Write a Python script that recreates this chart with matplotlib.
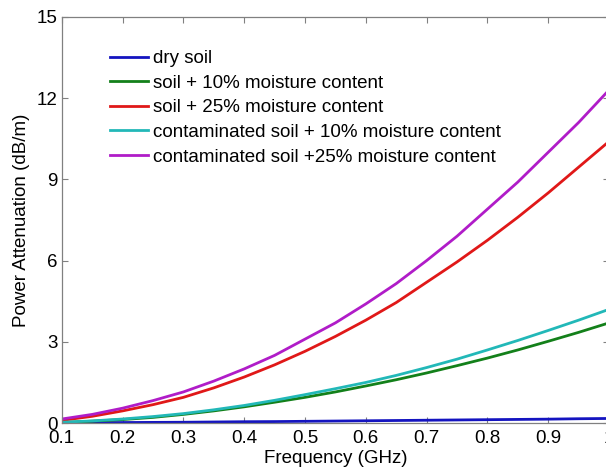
import matplotlib
matplotlib.use('Agg')
import matplotlib.pyplot as plt
import numpy as np

plt.rcParams['font.family'] = ['Liberation Sans', 'DejaVu Sans']

# frequency samples (GHz)
freq = [0.10, 0.15, 0.20, 0.25, 0.30, 0.35, 0.40, 0.45, 0.50, 0.55,
        0.60, 0.65, 0.70, 0.75, 0.80, 0.85, 0.90, 0.95, 1.00]

dry_soil = [0.01, 0.015, 0.02, 0.025, 0.03, 0.04, 0.05, 0.055, 0.065, 0.075,
            0.085, 0.095, 0.105, 0.115, 0.125, 0.135, 0.145, 0.16, 0.17]
soil_10 = [0.02, 0.07, 0.13, 0.21, 0.32, 0.45, 0.60, 0.77, 0.95, 1.15,
           1.37, 1.60, 1.85, 2.12, 2.40, 2.70, 3.02, 3.35, 3.70]
soil_25 = [0.10, 0.25, 0.45, 0.68, 0.95, 1.30, 1.70, 2.15, 2.65, 3.20,
           3.80, 4.45, 5.20, 5.95, 6.75, 7.60, 8.50, 9.45, 10.40]
cont_10 = [0.03, 0.08, 0.15, 0.24, 0.35, 0.49, 0.65, 0.84, 1.05, 1.27,
           1.50, 1.76, 2.05, 2.36, 2.70, 3.05, 3.42, 3.80, 4.20]
cont_25 = [0.15, 0.32, 0.55, 0.83, 1.15, 1.55, 2.00, 2.50, 3.10, 3.70,
           4.40, 5.15, 6.00, 6.90, 7.90, 8.90, 10.00, 11.10, 12.30]

labels = ['dry soil',
          'soil + 10% moisture content',
          'soil + 25% moisture content',
          'contaminated soil + 10% moisture content',
          'contaminated soil +25% moisture content']
colors = ['#1414c0', '#13801a', '#e01818', '#22b8b8', '#b01cc8']

xticks = [0.1, 0.2, 0.3, 0.4, 0.5, 0.6, 0.7, 0.8, 0.9, 1.0]
xticklabels = ['0.1', '0.2', '0.3', '0.4', '0.5', '0.6', '0.7', '0.8', '0.9', '1']
yticks = [0, 3, 6, 9, 12, 15]

fig = plt.figure(figsize=(6.06, 4.68), dpi=100)
ax = fig.add_axes([0.102, 0.096, 0.903, 0.868])

for ys, lab, c in zip([dry_soil, soil_10, soil_25, cont_10, cont_25], labels, colors):
    ax.plot(freq, ys, color=c, lw=2.0, label=lab)

ax.set_xlim(0.1, 1.0)
ax.set_ylim(0, 15)
ax.set_xticks(xticks)
ax.set_xticklabels(xticklabels)
ax.set_yticks(yticks)
ax.tick_params(direction='in', top=True, right=True, length=4, width=0.8,
               color='#808080', labelsize=13.5)
ax.tick_params(axis='x', pad=5)
ax.tick_params(axis='y', pad=3)
for s in ax.spines.values():
    s.set_color('#808080')
    s.set_linewidth(0.9)

ax.set_xlabel('Frequency (GHz)', fontsize=13.5, labelpad=2)
ax.set_ylabel('Power Attenuation (dB/m)', fontsize=13.5, labelpad=5)

ax.legend(loc='upper left', bbox_to_anchor=(0.075, 0.937), frameon=False,
          fontsize=13.5, handlelength=2.0, handletextpad=0.27, labelspacing=0.4,
          borderaxespad=0)

fig.savefig('out.png', dpi=100)
